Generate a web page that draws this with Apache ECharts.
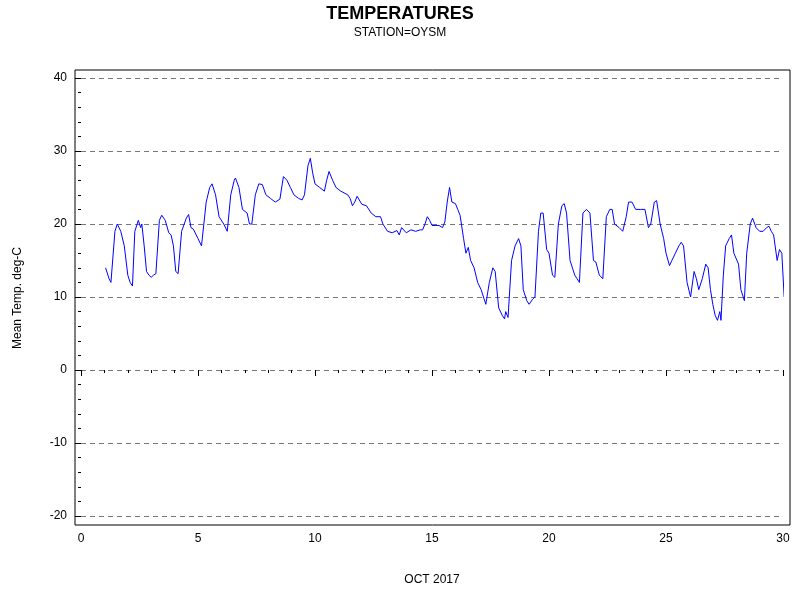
<!DOCTYPE html>
<html>
<head>
<meta charset="utf-8">
<script src="https://cdn.jsdelivr.net/npm/echarts@6/dist/echarts.min.js"></script>
<style>html,body{margin:0;padding:0;background:#fff}#main{width:800px;height:600px}</style>
</head>
<body>
<div id="main"></div>
<script>
// day of October 2017 and mean temperature (deg C)
const days = [1.05,1.2,1.28,1.45,1.55,1.7,1.85,2.0,2.1,2.2,2.3,2.45,2.55,2.6,2.7,2.8,2.9,3.0,3.1,3.2,3.35,3.45,3.6,3.75,3.85,3.95,4.05,4.15,4.3,4.5,4.6,4.7,4.8,5.0,5.15,5.35,5.5,5.6,5.75,5.9,6.1,6.25,6.4,6.55,6.6,6.75,6.9,7.1,7.2,7.3,7.45,7.6,7.75,7.9,8.1,8.3,8.5,8.65,8.8,8.95,9.1,9.3,9.45,9.55,9.7,9.8,9.9,10.0,10.2,10.4,10.5,10.6,10.75,10.9,11.1,11.4,11.5,11.6,11.7,11.8,12.0,12.2,12.4,12.6,12.8,12.9,13.1,13.3,13.5,13.6,13.7,13.9,14.1,14.3,14.5,14.6,14.7,14.8,14.9,15.0,15.3,15.45,15.55,15.65,15.75,15.85,16.0,16.1,16.2,16.35,16.45,16.55,16.65,16.8,16.95,17.1,17.3,17.45,17.6,17.7,17.85,18.0,18.1,18.15,18.25,18.4,18.55,18.7,18.8,18.9,19.05,19.15,19.3,19.4,19.55,19.65,19.75,19.9,20.0,20.15,20.25,20.4,20.55,20.65,20.75,20.9,21.1,21.2,21.3,21.45,21.6,21.75,21.9,22.0,22.15,22.3,22.45,22.6,22.7,22.8,23.0,23.15,23.3,23.4,23.55,23.7,23.9,24.1,24.25,24.35,24.5,24.6,24.75,24.9,25.0,25.15,25.25,25.4,25.55,25.65,25.75,25.9,26.05,26.2,26.3,26.4,26.55,26.7,26.8,26.9,27.0,27.1,27.2,27.3,27.35,27.45,27.55,27.7,27.8,27.9,28.1,28.2,28.3,28.35,28.45,28.6,28.7,28.85,29.0,29.15,29.3,29.4,29.5,29.6,29.65,29.75,29.85,29.95,30.05];
const temps = [14,12.5,12,19,20,19,17,13,12,11.5,19,20.5,19.5,20,17,13.5,13,12.7,13,13.2,20.5,21.2,20.5,18.8,18.5,17,13.5,13.2,19,20.8,21.3,19.5,19.3,18,17,23,25,25.5,24,21,20,19,24,26,26.3,25,22,21.5,20,20,24,25.5,25.4,24,23.5,23,23.4,26.5,26,25,24,23.5,23.3,24,28,29,27,25.5,25,24.5,26,27.2,26,25,24.5,24,23.5,22.5,23,23.8,22.7,22.5,21.5,21,21,20,19,18.8,19.1,18.5,19.5,18.8,19.2,19,19.2,19.2,20,21,20.5,19.8,19.8,19.5,20.3,23,25,23,22.8,22,21.2,18,16,16.8,15,14,12,11,9,12,14,13.5,8.5,7.5,7,8,7.2,15,17,18,17,11,9.5,9,9.7,10,19,21.5,21.5,16.5,16,13,12.7,20,22.5,22.8,21.5,15,13,12.5,12,21.5,22,21.5,15,14.8,13,12.5,21,22,22,20,19.5,19,21,23,23,22,22,22,19.5,20,23,23.2,20,18,16,14.3,15,16,17,17.5,17,12,10,13.5,12.5,11,12.5,14.5,14,11,9,7.5,6.8,8,6.8,13,17,18,18.5,16,14.5,11,10,9.5,16,20,20.8,19.5,19,19,19.5,19.7,19,18.5,18.3,15,16.5,16,10];
const xTicks = [0,5,10,15,20,25,30];
const yTicks = [-20,-10,0,10,20,30,40];

const chart = echarts.init(document.getElementById('main'));
const font = 'Liberation Sans, Arial, sans-serif';
chart.setOption({
    animation: false,
    title: {
        text: 'TEMPERATURES', subtext: 'STATION=OYSM', left: 'center', top: 0,
        itemGap: 4,
        textStyle: {fontFamily: font, fontSize: 18, fontWeight: 'bold', color: '#000'},
        subtextStyle: {fontFamily: font, fontSize: 12, color: '#000'}
    },
    grid: {left: 81, top: 78, width: 702, height: 438},
    graphic: [
        {type: 'rect', shape: {x: 75, y: 70, width: 715, height: 455}, style: {fill: 'none', stroke: '#000', lineWidth: 1}, z: 10},
        {type: 'text', x: 432, y: 574, style: {text: 'OCT 2017', fontFamily: font, fontSize: 12, fill: '#000', align: 'center'}},
        {type: 'text', x: 12, y: 298, rotation: Math.PI / 2, style: {text: 'Mean Temp. deg-C', fontFamily: font, fontSize: 12, fill: '#000', align: 'center', verticalAlign: 'top'}}
    ],
    xAxis: {
        type: 'value', min: xTicks[0], max: xTicks[xTicks.length - 1], interval: 5, offset: 9,
        axisLine: {show: false},
        axisTick: {show: true, length: 6, lineStyle: {color: '#000'}},
        minorTick: {show: true, splitNumber: 5, length: 3, lineStyle: {color: '#000'}},
        axisLabel: {fontFamily: font, fontSize: 12, color: '#000'},
        splitLine: {show: false}
    },
    yAxis: {
        type: 'value', min: yTicks[0], max: yTicks[yTicks.length - 1], interval: 10, offset: 6,
        axisLine: {show: false},
        axisTick: {show: true, length: 6, lineStyle: {color: '#000'}},
        minorTick: {show: true, splitNumber: 5, length: 3, lineStyle: {color: '#000'}},
        axisLabel: {fontFamily: font, fontSize: 12, color: '#000'},
        splitLine: {show: true, lineStyle: {color: '#777', type: [5, 4]}}
    },
    series: [{
        type: 'line', data: days.map((d, i) => [d, temps[i]]),
        showSymbol: false, lineStyle: {color: '#0000ff', width: 1}
    }]
});
</script>
</body>
</html>
